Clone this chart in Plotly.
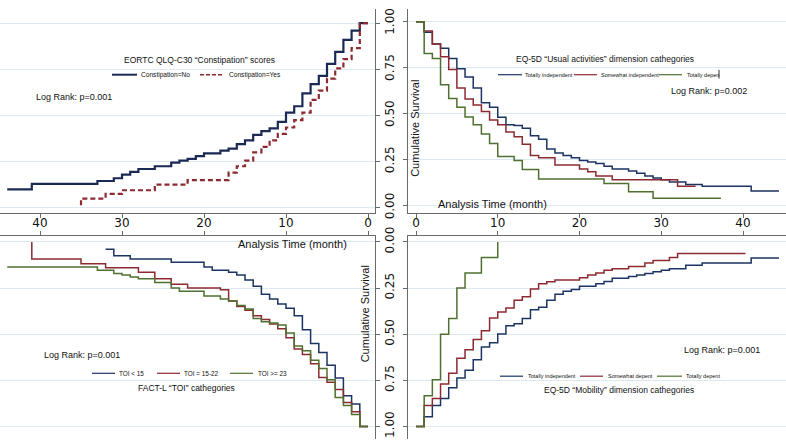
import plotly.graph_objects as go

W, H = 786, 445

# ---- top-left: EORTC QLQ-C30 "Constipation" (time in months, survival) ----
const_no_t = [0, 1, 2, 3, 4, 5, 6, 7, 8, 9, 10, 11, 12, 13, 14, 15, 16, 17, 18, 20, 21, 22, 23, 24, 26, 28, 29, 30, 31, 33, 41, 44]
const_no_s = [1.00, 0.96, 0.91, 0.845, 0.78, 0.715, 0.67, 0.62, 0.55, 0.515, 0.465, 0.43, 0.415, 0.395, 0.365, 0.345, 0.32, 0.31, 0.295,
              0.28, 0.265, 0.255, 0.245, 0.225, 0.21, 0.195, 0.18, 0.16, 0.145, 0.13, 0.10, 0.10]
const_yes_t = [0, 1, 2, 3, 4, 5, 6, 7, 8, 9, 10, 11, 12, 13, 14, 15, 16, 17, 22, 26, 30, 32, 35]
const_yes_s = [1.00, 0.865, 0.805, 0.755, 0.70, 0.635, 0.585, 0.515, 0.475, 0.435, 0.40, 0.365, 0.33, 0.30, 0.255, 0.225, 0.19, 0.15,
               0.125, 0.095, 0.075, 0.05, 0.0]

# ---- top-right: EQ-5D "Usual activities" ----
ua_ind_t = [0, 1, 2, 3, 4, 5, 6, 7, 8, 9, 10, 11, 12, 13, 14, 15, 16, 17, 18, 19, 20, 21, 22, 23, 24, 26, 27, 28, 29, 30, 31, 33, 35, 41, 44.4]
ua_ind_s = [1.0, 0.944, 0.88, 0.856, 0.80, 0.745, 0.70, 0.64, 0.56, 0.535, 0.48, 0.44, 0.435, 0.42, 0.38, 0.36, 0.307, 0.286, 0.272,
            0.26, 0.245, 0.237, 0.228, 0.214, 0.198, 0.188, 0.175, 0.161, 0.149, 0.14, 0.128, 0.114, 0.105, 0.079, 0.079]
ua_some_t = [0, 1, 2, 3, 4, 5, 6, 7, 8, 9, 10, 11, 12, 13, 14, 15, 17, 20, 21, 22, 24, 32, 34.2]
ua_some_s = [1.0, 0.95, 0.88, 0.81, 0.74, 0.64, 0.58, 0.547, 0.512, 0.465, 0.44, 0.40, 0.374, 0.333, 0.272, 0.26, 0.22, 0.198,
             0.184, 0.161, 0.14, 0.105, 0.105]
ua_dep_t = [0, 1, 2, 3, 4, 5, 6, 7, 8, 9, 10, 12, 13, 15, 23, 26, 29, 37.3]
ua_dep_s = [1.0, 0.828, 0.80, 0.658, 0.582, 0.535, 0.482, 0.439, 0.389, 0.337, 0.267, 0.245, 0.196, 0.144, 0.12, 0.074, 0.039, 0.039]

# ---- bottom-left: FACT-L "TOI" ----
toi_lo_t = [0, 1, 2, 3, 4, 5, 6, 7, 8, 9, 10, 11, 12, 13, 14, 15, 16, 17, 19, 20, 24, 29, 31, 32]
toi_lo_s = [1.0, 0.878, 0.834, 0.738, 0.668, 0.60, 0.55, 0.476, 0.40, 0.36, 0.337, 0.31, 0.284, 0.24, 0.206, 0.18, 0.165, 0.154,
            0.136, 0.11, 0.093, 0.075, 0.04, 0.04]
toi_mid_t = [0, 1, 2, 3, 4, 5, 6, 7, 8, 9, 10, 11, 12, 13, 14, 15, 16, 17, 18, 22, 24, 26, 28, 32, 35, 41]
toi_mid_s = [1.0, 0.92, 0.87, 0.80, 0.76, 0.735, 0.66, 0.61, 0.58, 0.52, 0.47, 0.445, 0.42, 0.40, 0.37, 0.35, 0.32, 0.26, 0.25,
             0.23, 0.20, 0.165, 0.14, 0.119, 0.093, 0.0]
toi_hi_t = [0, 1, 2, 3, 4, 5, 6, 7, 8, 9, 10, 11, 12, 13, 14, 15, 16, 17, 18, 20, 23, 24, 26, 28, 29, 30, 31, 33, 44]
toi_hi_s = [1.0, 0.935, 0.887, 0.843, 0.747, 0.686, 0.642, 0.59, 0.564, 0.494, 0.45, 0.44, 0.433, 0.415, 0.363, 0.345, 0.32, 0.31,
            0.293, 0.267, 0.25, 0.22, 0.20, 0.19, 0.18, 0.171, 0.154, 0.136, 0.136]

# ---- bottom-right: EQ-5D "Mobility" ----
mob_ind_t = [0, 1, 2, 3, 4, 5, 6, 7, 8, 9, 10, 11, 12, 13, 14, 15, 16, 17, 18, 19, 20, 22, 23, 24, 26, 27, 28, 29, 30, 31, 33, 35, 41, 44.4]
mob_ind_s = [1.0, 0.948, 0.887, 0.848, 0.79, 0.738, 0.695, 0.639, 0.569, 0.546, 0.499, 0.454, 0.443, 0.415, 0.368, 0.354, 0.316,
             0.284, 0.267, 0.258, 0.241, 0.227, 0.215, 0.197, 0.188, 0.18, 0.171, 0.162, 0.154, 0.145, 0.127, 0.115, 0.087, 0.087]
mob_some_t = [0, 1, 2, 3, 4, 5, 6, 7, 8, 9, 10, 11, 12, 13, 14, 15, 16, 17, 20, 21, 22, 23, 24, 26, 28, 29, 31, 32, 40.3]
mob_some_s = [1.0, 0.887, 0.848, 0.77, 0.712, 0.63, 0.585, 0.529, 0.482, 0.412, 0.38, 0.358, 0.316, 0.297, 0.255, 0.227, 0.216,
              0.206, 0.194, 0.18, 0.168, 0.154, 0.145, 0.133, 0.115, 0.101, 0.084, 0.063, 0.063]
mob_dep_t = [0, 1, 2, 3, 4, 5, 6, 8, 10]
mob_dep_s = [1.0, 0.834, 0.747, 0.50, 0.415, 0.25, 0.168, 0.084, 0.0]

month_ticks = [0, 10, 20, 30, 40]
surv_ticks = [0, 0.25, 0.5, 0.75, 1.0]
surv_labels = ["0.00", "0.25", "0.50", "0.75", "1.00"]

NAVY = "#1c3462"
NAVY_DARK = "#1b2a55"
MAROON = "#8c2a30"
GREEN = "#4f7030"
AXIS = "#6a6a6a"
GRID = "#dce9ef"
TXT = "Liberation Sans, Arial, sans-serif"
TICKFONT = dict(family="DejaVu Sans, sans-serif", size=12, color="#111")


def fx(p):
    return p / W


def fy(p):
    return 1 - p / H


fig = go.Figure()


def km(t, s, color, ax, width=1.5, dash="solid"):
    fig.add_trace(go.Scatter(x=t, y=s, mode="lines", xaxis=ax[0], yaxis=ax[1],
                             line=dict(color=color, width=width, shape="hv", dash=dash),
                             showlegend=False, hoverinfo="skip"))


km(const_no_t, const_no_s, NAVY_DARK, ("x", "y"), width=2.2)
km(const_yes_t, const_yes_s, MAROON, ("x", "y"), width=2.2, dash="5px,3px")

km(ua_ind_t, ua_ind_s, NAVY, ("x2", "y2"))
km(ua_some_t, ua_some_s, MAROON, ("x2", "y2"))
km(ua_dep_t, ua_dep_s, GREEN, ("x2", "y2"))

km(toi_lo_t, toi_lo_s, NAVY, ("x3", "y3"))
km(toi_mid_t, toi_mid_s, MAROON, ("x3", "y3"))
km(toi_hi_t, toi_hi_s, GREEN, ("x3", "y3"))

km(mob_ind_t, mob_ind_s, NAVY, ("x4", "y4"))
km(mob_some_t, mob_some_s, MAROON, ("x4", "y4"))
km(mob_dep_t, mob_dep_s, GREEN, ("x4", "y4"))

xbase = dict(showline=True, linecolor=AXIS, linewidth=1, ticks="outside", ticklen=4, tickcolor=AXIS,
             zeroline=False, showgrid=False, tickvals=month_ticks, tickfont=TICKFONT, fixedrange=True,
             ticklabelstandoff=-5)
ybase = dict(showline=True, linecolor=AXIS, linewidth=1, ticks="outside", ticklen=4, tickcolor=AXIS,
             zeroline=False, showgrid=True, gridcolor=GRID, gridwidth=1, tickvals=surv_ticks,
             ticktext=surv_labels, tickangle=-90, tickfont=TICKFONT, fixedrange=True)

left_range = [44.88, -0.854]
right_range = [-0.979, 45.26]

fig.update_layout(
    width=W, height=H,
    margin=dict(l=0, r=0, t=0, b=0),
    paper_bgcolor="white", plot_bgcolor="white",
    xaxis=dict(xbase, domain=[0, fx(375)], range=left_range, side="bottom", anchor="y"),
    yaxis=dict(ybase, domain=[fy(211), 1], range=[-0.0277, 1.077], side="right", anchor="x"),
    xaxis2=dict(xbase, domain=[fx(408), 1], range=right_range, side="bottom", anchor="y2"),
    yaxis2=dict(ybase, domain=[fy(211), 1], range=[-0.0405, 1.07], side="left", anchor="x2",
                showticklabels=False),
    xaxis3=dict(xbase, domain=[0, fx(375)], range=left_range, side="top", anchor="y3",
                showticklabels=False),
    yaxis3=dict(ybase, domain=[0, fy(235)], range=[1.068, -0.0314], side="right", anchor="x3"),
    xaxis4=dict(xbase, domain=[fx(408), 1], range=right_range, side="top", anchor="y4",
                showticklabels=False),
    yaxis4=dict(ybase, domain=[0, fy(235)], range=[1.068, -0.0314], side="left", anchor="x4",
                showticklabels=False),
)


def label(x, y, text, size, xanchor="left", angle=0):
    fig.add_annotation(x=fx(x), y=fy(y), xref="paper", yref="paper", text=text, showarrow=False,
                       xanchor=xanchor, yanchor="middle", textangle=angle, borderpad=0,
                       font=dict(family=TXT, size=size, color="#111"))


def key(x0, x1, y, color, width=1.5, dash="solid"):
    fig.add_shape(type="line", xref="paper", yref="paper", x0=fx(x0), x1=fx(x1), y0=fy(y), y1=fy(y),
                  line=dict(color=color, width=width, dash=dash))


# top-left texts
label(199, 53, "EORTC QLQ-C30 “Constipation” scores", 8.5, "center")
key(112, 137, 68, NAVY_DARK, 2)
label(140, 68, "Constipation=No", 6.6)
key(200, 222, 68, MAROON, 1.6, "4px,2px")
label(228, 68, "Constipation=Yes", 6.6)
label(35, 91, "Log Rank: p=0.001", 9)

# top-right texts
label(415, 124, "Cumulative Survival", 11, "center", -90)
label(437, 202, "Analysis Time (month)", 11)
label(605, 52, "EQ-5D “Usual activities” dimension cathegories", 8.5, "center")
key(498, 522, 68, NAVY, 1.2)
label(524, 68, "Totally independent", 5.5)
key(574, 597, 68, MAROON, 1.2)
label(600, 68, "Somewhat independent", 5.5)
key(659, 682, 68, GREEN, 1.2)
label(686, 68, "Totally depen", 5.5)
fig.add_shape(type="line", xref="paper", yref="paper", x0=fx(719), x1=fx(719), y0=fy(63), y1=fy(72),
              line=dict(color="#333", width=1))
label(670, 85, "Log Rank: p=0.002", 9)

# bottom-left texts
label(237, 243, "Analysis Time (month)", 11)
label(365, 316, "Cumulative Survival", 11, "center", -90)
label(43, 358, "Log Rank: p=0.001", 9)
key(92, 115, 377, NAVY, 1.2)
label(118, 377, "TOI &lt; 15", 6.4)
key(157, 180, 377, MAROON, 1.2)
label(183, 377, "TOI = 15-22", 6.4)
key(230, 253, 377, GREEN, 1.2)
label(257, 377, "TOI &gt;= 23", 6.4)
label(186, 392, "FACT-L “TOI” cathegories", 8.5, "center")

# bottom-right texts
label(683, 353, "Log Rank: p=0.001", 9)
key(500, 523, 380, NAVY, 1.2)
label(527, 380, "Totally independent", 5.5)
key(580, 603, 380, MAROON, 1.2)
label(607, 380, "Somewhat depent", 5.5)
key(657, 682, 380, GREEN, 1.2)
label(685, 380, "Totally depent", 5.5)
label(619, 394, "EQ-5D “Mobility” dimension cathegories", 8.5, "center")

# the page body has a default 8px margin; drop it so the figure fills the window
fig.write_html("out.html", config={"displayModeBar": False},
               post_script="document.body.style.margin='0px';")
